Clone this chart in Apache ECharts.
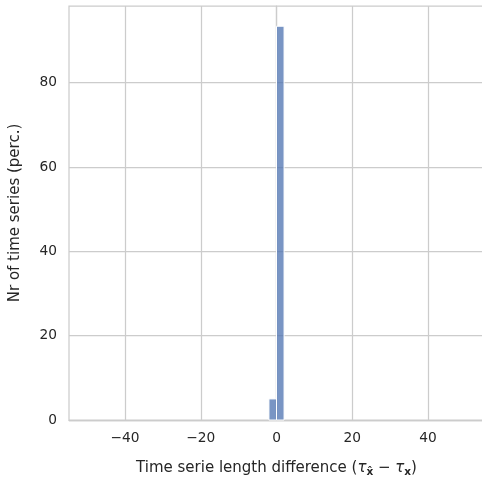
<!DOCTYPE html>
<html>
<head>
<meta charset="utf-8">
<script src="https://cdn.jsdelivr.net/npm/echarts@6/dist/echarts.min.js"></script>
<style>html,body{margin:0;padding:0;background:#fff}#c{width:482px;height:479px}</style>
</head>
<body>
<div id="c"></div>
<script>
// Histogram bins (left edge, right edge) and percentages
const binStarts = [-2, 0];
const binEnds = [0, 2];
const binValues = [5.0, 93.4];
const xTicks = [-40, -20, 0, 20, 40];
const yTicks = [0, 20, 40, 60, 80];

const chart = echarts.init(document.getElementById('c'), null, {renderer: 'canvas'});
const font = 'DejaVu Sans';
const textColor = '#262626';
const data = binStarts.map((s, i) => [s, binEnds[i], binValues[i]]);

chart.setOption({
  animation: false,
  backgroundColor: '#ffffff',
  grid: {left: 69, top: 6, right: -2, bottom: 59, containLabel: false, outerBoundsMode: 'none',
    show: true, borderColor: '#cccccc', borderWidth: 1.25, backgroundColor: 'transparent'},
  xAxis: {
    type: 'value', min: -54.8, max: 54.8,
    axisLine: {show: true, onZero: false, lineStyle: {color: '#cccccc', width: 1.25}},
    axisTick: {show: false, customValues: xTicks},
    splitLine: {show: true, lineStyle: {color: '#cccccc', width: 1.25}},
    axisLabel: {customValues: xTicks, margin: 11, color: textColor, fontFamily: font, fontSize: 13.75,
      formatter: v => (v < 0 ? '\u2212' + Math.abs(v) : String(v))},
    name: '{t|Time serie length difference (}{g|τ}{s|x̂}{t| − }{g|τ}{s|x}{t|)}',
    nameLocation: 'middle', nameGap: 39,
    nameTextStyle: {color: textColor, fontFamily: font, fontSize: 15,
      rich: {
        t: {fontFamily: font, fontSize: 15, color: textColor},
        g: {fontFamily: font, fontSize: 15, fontStyle: 'italic', color: textColor},
        s: {fontFamily: font, fontSize: 10.5, fontWeight: 'bold', color: textColor, padding: [8, 0, 0, 0]}
      }}
  },
  yAxis: {
    type: 'value', min: 0, max: 98.2,
    axisLine: {show: true, lineStyle: {color: '#cccccc', width: 1.25}},
    axisTick: {show: false, customValues: yTicks},
    splitLine: {show: true, lineStyle: {color: '#cccccc', width: 1.25}},
    axisLabel: {customValues: yTicks, margin: 12, color: textColor, fontFamily: font, fontSize: 13.75},
    name: 'Nr of time series (perc.)', nameLocation: 'middle', nameGap: 46,
    nameTextStyle: {color: textColor, fontFamily: font, fontSize: 15}
  },
  series: [{
    type: 'custom',
    data: data,
    encode: {x: [0, 1], y: 2},
    renderItem: function (params, api) {
      const p0 = api.coord([api.value(0), 0]);
      const p1 = api.coord([api.value(1), api.value(2)]);
      return {
        type: 'rect',
        shape: {x: p0[0], y: p1[1], width: p1[0] - p0[0], height: p0[1] - p1[1]},
        style: {fill: 'rgba(76,114,176,0.75)', stroke: '#ffffff', lineWidth: 1}
      };
    }
  }]
});
</script>
</body>
</html>
